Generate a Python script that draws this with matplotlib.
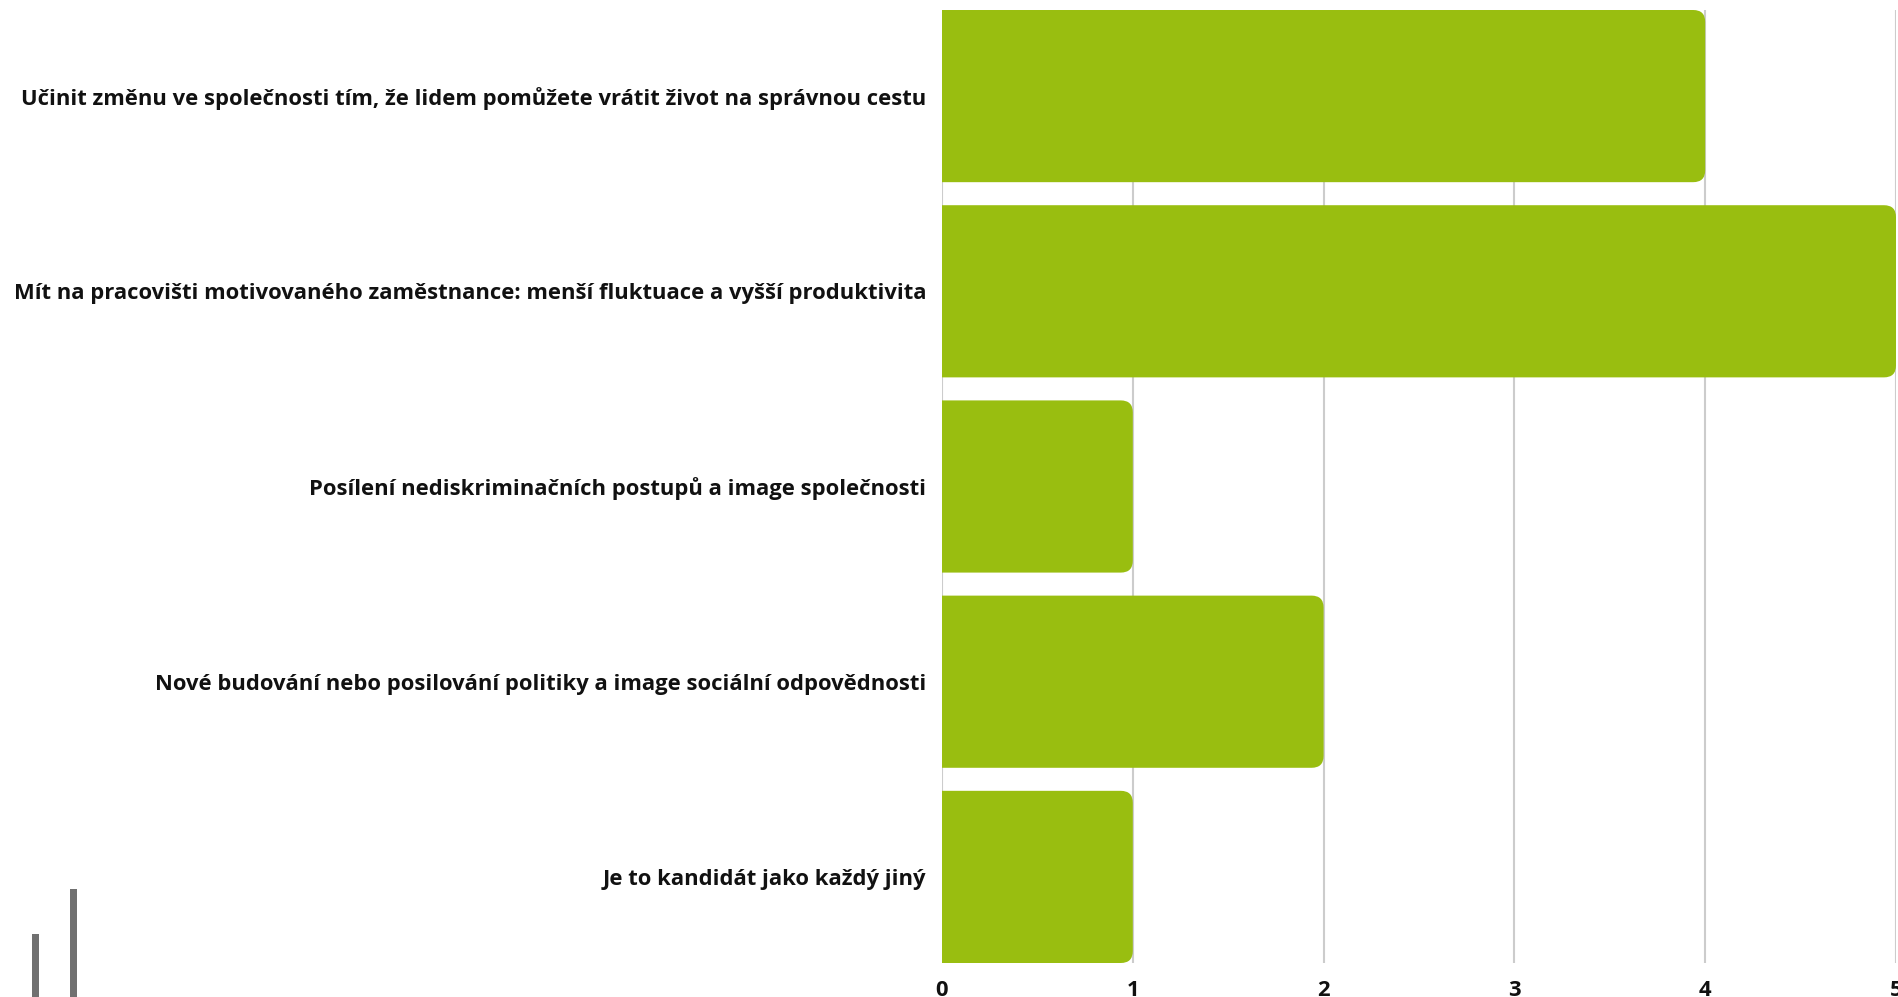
import matplotlib
matplotlib.use("Agg")
import matplotlib.pyplot as plt
from matplotlib.patches import FancyBboxPatch, Rectangle

categories = [
    "Učinit změnu ve společnosti tím, že lidem pomůžete vrátit život na správnou cestu",
    "Mít na pracovišti motivovaného zaměstnance: menší fluktuace a vyšší produktivita",
    "Posílení nediskriminačních postupů a image společnosti",
    "Nové budování nebo posilování politiky a image sociální odpovědnosti",
    "Je to kandidát jako každý jiný",
]
values = [4, 5, 1, 2, 1]
xticks = [0, 1, 2, 3, 4, 5]

BAR_COLOR = "#99BE10"
GRID_COLOR = "#cccccc"
plt.rcParams['font.family'] = ['Open Sans', 'DejaVu Sans']

W, H = 1899, 997
fig = plt.figure(figsize=(W / 100, H / 100), dpi=100)
ax_left, ax_right = 942 / W, 1896 / W
ax_top, ax_bottom = 1 - 10 / H, 1 - 963 / H
ax = fig.add_axes([ax_left, ax_bottom, ax_right - ax_left, ax_top - ax_bottom])

bar_h = 0.882
ax.set_xlim(0, 5)
ax.set_ylim(len(categories) - 1 + bar_h / 2, -bar_h / 2)

# pixels per unit
px_x = (ax_right - ax_left) * W / 5
px_y = (ax_top - ax_bottom) * H / (len(categories) - 1 + bar_h)
radius_px = 12
r = radius_px / px_x
aspect = px_x / px_y

ax.set_axisbelow(True)
ax.xaxis.grid(True, color=GRID_COLOR, linewidth=1.5)
ax.yaxis.grid(False)

for i, v in enumerate(values):
    start = -0.3
    p = FancyBboxPatch((start, i - bar_h / 2), v - start, bar_h,
                       boxstyle=f"round,pad=0,rounding_size={r}",
                       mutation_aspect=aspect,
                       facecolor=BAR_COLOR, edgecolor="none", zorder=2)
    ax.add_patch(p)

ax.set_yticks(range(len(categories)))
ax.set_yticklabels(categories, fontsize=15.8, fontweight="bold", color="#111111")
ax.set_xticks(xticks)
ax.set_xticklabels([str(t) for t in xticks], fontsize=15.8, fontweight="bold", color="#111111")
ax.tick_params(axis="y", length=0, pad=11.5)
ax.tick_params(axis="x", length=0, pad=12)
for s in ax.spines.values():
    s.set_visible(False)

# decorative gray bars at bottom-left
fig.add_artist(Rectangle((32 / W, 0), 7 / W, (997 - 934) / H, transform=fig.transFigure,
                         facecolor="#707070", edgecolor="none"))
fig.add_artist(Rectangle((70 / W, 0), 7 / W, (997 - 889) / H, transform=fig.transFigure,
                         facecolor="#707070", edgecolor="none"))

fig.savefig("out.png", dpi=100, facecolor="white")
